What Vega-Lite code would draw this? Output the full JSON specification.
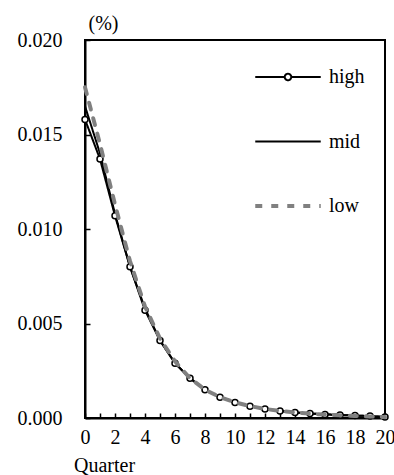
{
  "$schema": "https://vega.github.io/schema/vega-lite/v6.json",
  "autosize": "none",
  "padding": {"left": 85, "top": 40, "right": 9, "bottom": 57},
  "width": 300,
  "height": 378,
  "background": "white",
  "config": {
    "font": "Liberation Serif",
    "view": {"stroke": "black", "strokeWidth": 2},
    "axis": {
      "labelFont": "Liberation Serif",
      "labelFontSize": 20,
      "labelColor": "black",
      "titleFont": "Liberation Serif",
      "titleFontSize": 20,
      "titleFontWeight": "normal",
      "titleColor": "black",
      "domainColor": "black",
      "domainWidth": 2,
      "tickColor": "black",
      "tickWidth": 1.5,
      "tickSize": -5,
      "grid": false
    },
    "legend": {
      "labelFont": "Liberation Serif"
    }
  },
  "data": {
    "values": [
      {"q": 0, "series": "high", "v": 0.0158}, {"q": 1, "series": "high", "v": 0.0137}, {"q": 2, "series": "high", "v": 0.0107},
      {"q": 3, "series": "high", "v": 0.0080}, {"q": 4, "series": "high", "v": 0.0057}, {"q": 5, "series": "high", "v": 0.0041},
      {"q": 6, "series": "high", "v": 0.0029}, {"q": 7, "series": "high", "v": 0.0021}, {"q": 8, "series": "high", "v": 0.0015},
      {"q": 9, "series": "high", "v": 0.0011}, {"q": 10, "series": "high", "v": 0.00082}, {"q": 11, "series": "high", "v": 0.00062},
      {"q": 12, "series": "high", "v": 0.00047}, {"q": 13, "series": "high", "v": 0.00037}, {"q": 14, "series": "high", "v": 0.00029},
      {"q": 15, "series": "high", "v": 0.00024}, {"q": 16, "series": "high", "v": 0.00019}, {"q": 17, "series": "high", "v": 0.00016},
      {"q": 18, "series": "high", "v": 0.00013}, {"q": 19, "series": "high", "v": 0.00010}, {"q": 20, "series": "high", "v": 0.00005},
      {"q": 0, "series": "mid", "v": 0.0165}, {"q": 1, "series": "mid", "v": 0.0140}, {"q": 2, "series": "mid", "v": 0.0108},
      {"q": 3, "series": "mid", "v": 0.0080}, {"q": 4, "series": "mid", "v": 0.0058}, {"q": 5, "series": "mid", "v": 0.0041},
      {"q": 6, "series": "mid", "v": 0.0029}, {"q": 7, "series": "mid", "v": 0.0021}, {"q": 8, "series": "mid", "v": 0.0015},
      {"q": 9, "series": "mid", "v": 0.0011}, {"q": 10, "series": "mid", "v": 0.00082}, {"q": 11, "series": "mid", "v": 0.00062},
      {"q": 12, "series": "mid", "v": 0.00047}, {"q": 13, "series": "mid", "v": 0.00037}, {"q": 14, "series": "mid", "v": 0.00029},
      {"q": 15, "series": "mid", "v": 0.00024}, {"q": 16, "series": "mid", "v": 0.00019}, {"q": 17, "series": "mid", "v": 0.00016},
      {"q": 18, "series": "mid", "v": 0.00013}, {"q": 19, "series": "mid", "v": 0.00010}, {"q": 20, "series": "mid", "v": 0.00006},
      {"q": 0, "series": "low", "v": 0.0175}, {"q": 1, "series": "low", "v": 0.0145}, {"q": 2, "series": "low", "v": 0.0113},
      {"q": 3, "series": "low", "v": 0.0083}, {"q": 4, "series": "low", "v": 0.0059}, {"q": 5, "series": "low", "v": 0.0042},
      {"q": 6, "series": "low", "v": 0.0030}, {"q": 7, "series": "low", "v": 0.0021}, {"q": 8, "series": "low", "v": 0.0015},
      {"q": 9, "series": "low", "v": 0.0011}, {"q": 10, "series": "low", "v": 0.00083}, {"q": 11, "series": "low", "v": 0.00063},
      {"q": 12, "series": "low", "v": 0.00048}, {"q": 13, "series": "low", "v": 0.00037}, {"q": 14, "series": "low", "v": 0.00029},
      {"q": 15, "series": "low", "v": 0.00023}, {"q": 16, "series": "low", "v": 0.00018}, {"q": 17, "series": "low", "v": 0.00014},
      {"q": 18, "series": "low", "v": 0.00011}, {"q": 19, "series": "low", "v": 0.00008}, {"q": 20, "series": "low", "v": 0.00005}
    ]
  },
  "encoding": {
    "x": {
      "field": "q", "type": "quantitative",
      "scale": {"domain": [0, 20], "nice": false},
      "axis": {
        "values": [0,1,2,3,4,5,6,7,8,9,10,11,12,13,14,15,16,17,18,19,20],
        "labelExpr": "datum.value % 2 == 0 ? datum.label : ''",
        "labelPadding": 14,
        "labelFlush": false,
        "labelOverlap": false,
        "title": "Quarter",
        "titleAnchor": null,
        "titleAlign": "center",
        "titleBaseline": "alphabetic",
        "titleX": 19,
        "titleY": 53
      }
    },
    "y": {
      "field": "v", "type": "quantitative",
      "scale": {"domain": [0, 0.02], "nice": false},
      "axis": {
        "values": [0, 0.005, 0.01, 0.015, 0.02],
        "format": ".3f",
        "labelPadding": 28,
        "labelFlush": false,
        "labelOverlap": false,
        "title": "(%)",
        "titleAngle": 0,
        "titleAlign": "center",
        "titleBaseline": "alphabetic",
        "titleX": 18,
        "titleY": -11
      }
    }
  },
  "layer": [
    {
      "transform": [{"filter": "datum.series !== 'low'"}],
      "mark": {"type": "line", "strokeWidth": 2, "strokeCap": "round"},
      "encoding": {
        "color": {
          "field": "series", "type": "nominal",
          "scale": {"domain": ["high", "mid", "low"], "range": ["black", "black", "#808080"]},
          "legend": {
            "title": null,
            "orient": "none",
            "legendX": 193,
            "legendY": 27,
            "padding": 0,
            "symbolType": "stroke",
            "symbolSize": 4290,
            "rowPadding": 44.5,
            "labelOffset": 31,
            "labelFont": "Liberation Serif",
            "labelFontSize": 20,
            "labelColor": "black",
            "encode": {
              "symbols": {
                "update": {
                  "shape": {"signal": "datum.value === 'high' ? 'M-1,0H-0.1M0.1,0H1M0.1,0A0.1,0.1,0,1,1,-0.1,0A0.1,0.1,0,1,1,0.1,0Z' : 'stroke'"},
                  "fill": {"signal": "datum.value === 'high' ? 'white' : 'transparent'"},
                  "strokeWidth": {"signal": "datum.value === 'low' ? 4 : 2"},
                  "opacity": {"value": 1}
                }
              }
            }
          }
        },
        "strokeDash": {
          "field": "series", "type": "nominal",
          "scale": {"domain": ["high", "mid", "low"], "range": [[1, 0], [1, 0], [7, 9]]},
          "legend": null
        }
      }
    },
    {
      "transform": [{"filter": "datum.series === 'high'"}],
      "mark": {"type": "point", "filled": true, "fill": "white", "stroke": "black", "strokeWidth": 1.5, "size": 36, "opacity": 1}
    },
    {
      "transform": [{"filter": "datum.series === 'low'"}],
      "mark": {"type": "line", "strokeWidth": 4, "strokeCap": "round"},
      "encoding": {
        "color": {
          "field": "series", "type": "nominal",
          "scale": {"domain": ["high", "mid", "low"], "range": ["black", "black", "#808080"]},
          "legend": null
        },
        "strokeDash": {
          "field": "series", "type": "nominal",
          "scale": {"domain": ["high", "mid", "low"], "range": [[1, 0], [1, 0], [7, 9]]},
          "legend": null
        }
      }
    }
  ]
}
